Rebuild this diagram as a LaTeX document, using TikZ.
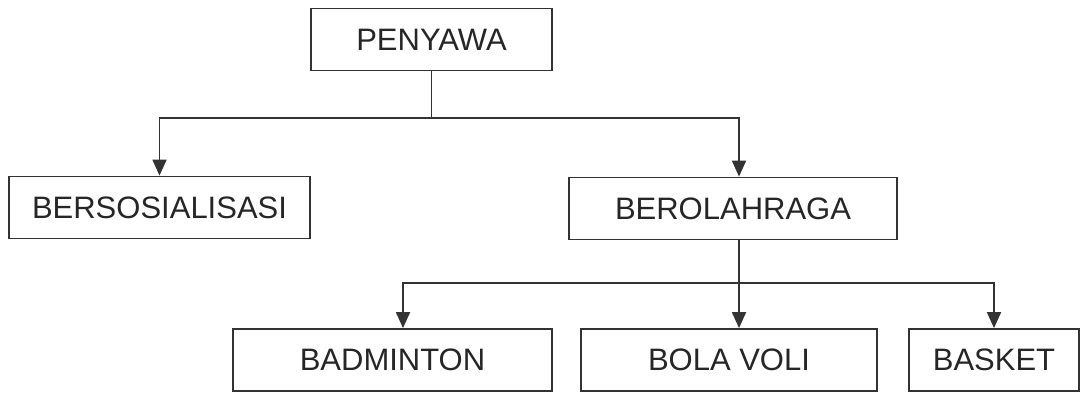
\documentclass[tikz,border=0pt]{standalone}
\usepackage{fontspec}
\setmainfont{Liberation Sans}
\usetikzlibrary{arrows.meta}

\begin{document}
\begin{tikzpicture}[x=1pt, y=-1pt,
		box/.style={draw=black!80, line width=1.8pt, text=black!85, font=\fontsize{31}{31}\selectfont,
			minimum height=62pt, inner sep=0pt},
		link/.style={draw=black!80, line width=1.8pt},
		tip/.style={link, -{Triangle[length=16pt, width=14pt]}}]
	\useasboundingbox (0,0) rectangle (1084,393);

	% level 0
	\node[box, minimum width=241pt] (penyawa) at (431.5, 39.5) {PENYAWA};

	% level 1
	\node[box, minimum width=301pt] (sosial) at (159.5, 207.5) {BERSOSIALISASI};
	\node[box, minimum width=328pt] (olahraga) at (733, 208.5) {BEROLAHRAGA};

	% level 2
	\node[box, minimum width=319pt] (badminton) at (392.5, 360) {BADMINTON};
	\node[box, minimum width=296pt] (voli) at (729, 360) {BOLA VOLI};
	\node[box, minimum width=170pt] (basket) at (994, 360) {BASKET};

	% junctions
	\coordinate (split1) at (431.5, 118);
	\coordinate (stem) at (739, 240);
	\coordinate (split2) at (739, 283);

	\draw[link] (penyawa) -- (split1);
	\draw[tip] (split1) -| (sosial.north);
	\draw[tip] (split1) -| (olahraga.north -| stem);

	\draw[link] (stem) -- (split2);
	\draw[tip] (split2) -| ([xshift=10.5pt]badminton.north);
	\draw[tip] (split2) -- (voli.north -| stem);
	\draw[tip] (split2) -| (basket.north);
\end{tikzpicture}
\end{document}
